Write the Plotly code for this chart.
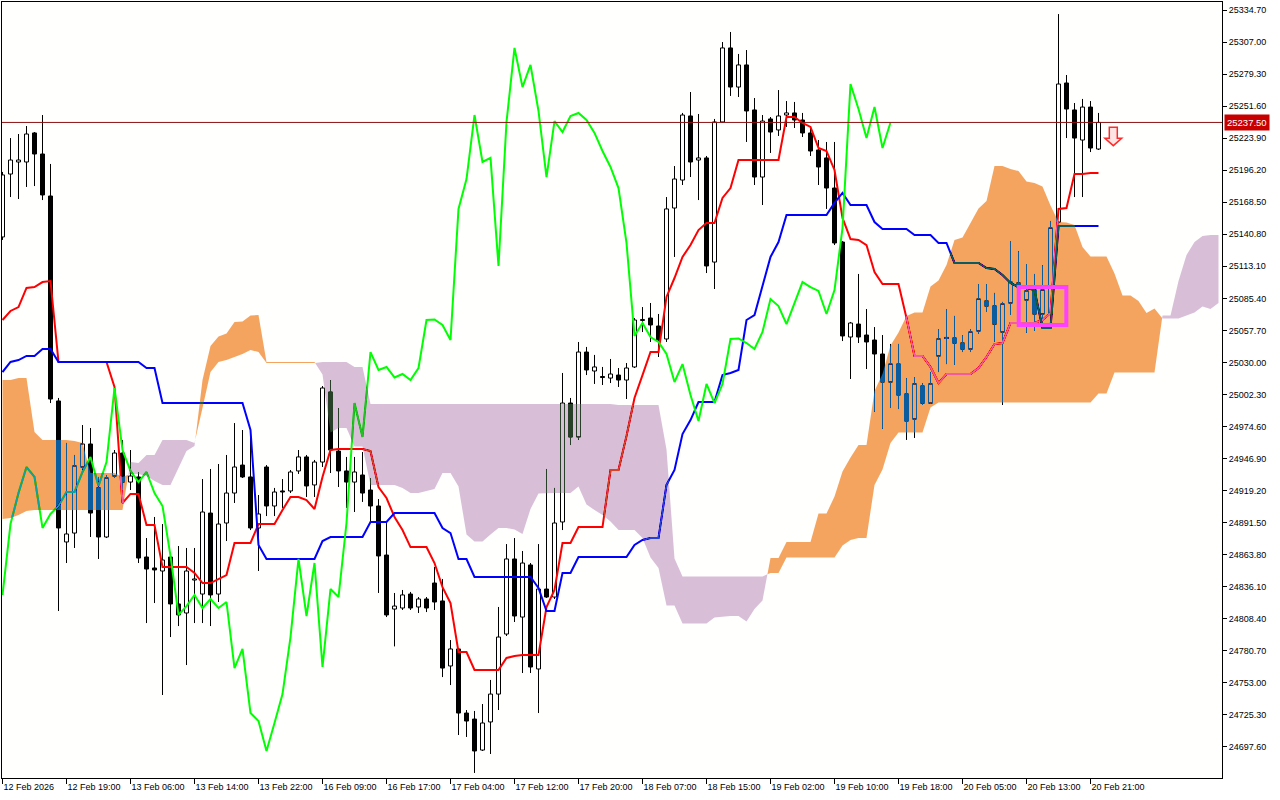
import plotly.graph_objects as go

# ---------------- data (H1 bars, price values) ----------------
OPEN = [25138.5, 25192.9, 25203.3, 25203.3, 25228.4, 25210.2, 25173.9, 24996.7, 24874.8, 24882.5,
        24939.6, 24959.5, 24921.5, 24879.1, 24931.8, 24951.7, 24926.6, 24931.0, 24861.8, 24852.3,
        24849.7, 24861.8, 24821.2, 24813.4, 24841.9, 24829.8, 24899.8, 24829.8, 24891.2, 24917.1,
        24941.3, 24931.0, 24886.9, 24939.6, 24905.9, 24918.9, 24918.9, 24936.2, 24948.3, 24924.1,
        24943.9, 25004.4, 24953.4, 24936.2, 24926.6, 24932.7, 24919.7, 24905.9, 24863.5, 24816.8,
        24817.7, 24829.8, 24818.6, 24825.5, 24839.3, 24823.8, 24767.6, 24782.3, 24726.9, 24721.7,
        24694.9, 24719.2, 24743.3, 24795.2, 24860.1, 24809.9, 24854.9, 24765.0, 24834.1, 24827.2,
        24892.1, 24994.9, 24965.6, 25039.0, 25022.6, 25017.8, 25016.5, 25019.1, 25014.8, 25026.1,
        25066.3, 25068.4, 25061.5, 25050.3, 25163.5, 25187.7, 25243.1, 25205.0, 25206.8, 25116.8,
        25237.9, 25301.9, 25268.1, 25287.2, 25248.3, 25190.3, 25240.5, 25231.0, 25243.9, 25245.7,
        25239.6, 25228.4, 25213.7, 25206.8, 25180.8, 25134.1, 25052.0, 25063.2, 25053.7, 25049.4,
        25037.3, 25013.1, 25028.6, 25002.7, 24981.1, 25009.6, 24994.9, 25035.6, 25051.6, 25051.1,
        25046.8, 25041.6, 25057.2, 25083.1, 25078.8, 25056.3, 25081.4, 25098.7, 25084.0, 25092.6,
        25071.9, 25071.9, 25151.4, 25271.6, 25248.3, 25222.3, 25250.8, 25214.5]
HIGH = [25194.7, 25224.0, 25227.5, 25234.4, 25229.2, 25243.9, 25201.6, 24999.3, 24960.4, 24950.0,
        24975.9, 24973.3, 24931.0, 24932.7, 24954.3, 24963.0, 24954.3, 24935.3, 24878.2, 24896.4,
        24890.3, 24862.7, 24871.3, 24869.6, 24869.6, 24929.2, 24937.9, 24942.2, 24950.0, 24977.6,
        24971.6, 24971.6, 24915.4, 24941.3, 24921.5, 24929.2, 24937.0, 24954.3, 24950.0, 24945.7,
        25009.6, 25014.8, 24990.6, 24948.3, 24948.3, 24952.6, 24930.1, 24911.9, 24892.1, 24830.7,
        24833.3, 24831.6, 24827.2, 24827.2, 24853.2, 24842.8, 24790.0, 24783.1, 24729.5, 24728.7,
        24734.7, 24755.5, 24818.6, 24873.0, 24878.2, 24867.0, 24856.6, 24873.0, 24937.9, 24921.5,
        25020.9, 24999.3, 25047.7, 25043.4, 25036.5, 25026.1, 25033.0, 25025.2, 25029.5, 25068.4,
        25077.9, 25081.4, 25071.9, 25173.0, 25199.8, 25245.7, 25263.8, 25244.8, 25208.5, 25240.5,
        25307.0, 25315.7, 25296.7, 25300.1, 25258.6, 25243.9, 25242.2, 25265.5, 25256.0, 25255.2,
        25245.7, 25233.6, 25222.3, 25220.6, 25220.6, 25135.0, 25065.0, 25106.5, 25076.2, 25060.6,
        25053.7, 25046.0, 25046.0, 25016.5, 25017.4, 25012.2, 25021.7, 25058.9, 25076.2, 25070.2,
        25053.7, 25058.9, 25097.8, 25097.8, 25090.1, 25082.3, 25135.0, 25126.3, 25115.1, 25106.5,
        25114.2, 25152.3, 25331.2, 25278.5, 25254.3, 25257.8, 25256.0, 25245.7]
LOW = [25135.9, 25173.0, 25171.3, 25181.7, 25182.5, 25170.4, 24994.9, 24815.1, 24856.6, 24869.6,
       24937.0, 24879.1, 24860.1, 24878.2, 24930.1, 24919.7, 24919.7, 24856.6, 24804.7, 24822.0,
       24742.5, 24792.6, 24802.1, 24768.4, 24804.7, 24804.7, 24802.1, 24822.9, 24875.6, 24908.5,
       24930.1, 24885.1, 24849.7, 24897.2, 24897.2, 24904.2, 24917.1, 24933.6, 24913.7, 24913.7,
       24939.6, 24934.4, 24922.3, 24904.2, 24900.7, 24909.4, 24891.2, 24830.7, 24809.9, 24784.5,
       24816.0, 24816.0, 24813.4, 24814.2, 24816.0, 24758.0, 24751.1, 24707.9, 24706.2, 24675.1,
       24694.1, 24691.5, 24729.5, 24793.5, 24805.6, 24761.5, 24761.5, 24726.9, 24826.4, 24825.5,
       24885.1, 24958.6, 24963.0, 25019.1, 25011.4, 25010.5, 25012.2, 25008.8, 24998.4, 25025.2,
       25056.3, 25047.7, 25034.7, 25047.7, 25121.2, 25183.4, 25190.3, 25170.4, 25107.3, 25093.5,
       25237.0, 25260.4, 25259.5, 25220.6, 25183.4, 25166.1, 25211.1, 25225.8, 25233.6, 25232.7,
       25224.9, 25208.5, 25183.4, 25162.7, 25131.5, 25048.5, 25015.7, 25046.8, 25024.3, 24987.2,
       24972.5, 24990.6, 24989.7, 24963.0, 24964.7, 24993.2, 24994.1, 25021.7, 25028.6, 25027.8,
       25039.0, 25039.0, 25054.6, 25073.6, 25047.7, 24993.2, 25071.0, 25079.7, 25055.5, 25057.2,
       25059.8, 25070.2, 25150.6, 25224.0, 25173.0, 25173.0, 25211.9, 25213.7]
CLOSE = [25192.1, 25205.0, 25205.0, 25227.5, 25210.2, 25174.8, 24998.4, 24886.9, 24881.7, 24940.5,
         24959.5, 24899.8, 24879.1, 24930.1, 24951.7, 24926.6, 24931.8, 24860.9, 24851.4, 24850.6,
         24859.2, 24821.2, 24811.7, 24849.7, 24842.8, 24900.7, 24829.0, 24890.3, 24917.1, 24939.6,
         24931.0, 24886.9, 24899.0, 24905.9, 24918.0, 24918.0, 24935.3, 24948.3, 24923.2, 24943.9,
         25007.9, 24954.3, 24936.2, 24926.6, 24935.3, 24917.1, 24905.9, 24862.7, 24811.7, 24819.4,
         24829.0, 24817.7, 24825.5, 24817.7, 24822.9, 24765.8, 24782.3, 24726.9, 24720.0, 24694.1,
         24718.3, 24743.3, 24792.6, 24860.1, 24810.8, 24856.6, 24766.7, 24834.1, 24827.2, 24891.2,
         24994.9, 24965.6, 25039.0, 25023.5, 25026.1, 25017.0, 25020.0, 25014.8, 25025.2, 25066.7,
         25067.1, 25062.4, 25049.4, 25162.7, 25188.6, 25243.9, 25203.3, 25206.8, 25113.4, 25237.9,
         25301.9, 25268.1, 25287.2, 25247.4, 25190.3, 25238.7, 25229.2, 25243.1, 25245.7, 25239.6,
         25228.4, 25212.8, 25199.0, 25180.8, 25133.3, 25052.9, 25064.1, 25052.0, 25047.7, 25037.3,
         25013.1, 25028.6, 25001.9, 24979.4, 25011.4, 24994.9, 25011.4, 25050.3, 25050.7, 25046.8,
         25041.6, 25056.3, 25084.8, 25078.8, 25063.2, 25080.5, 25099.5, 25095.2, 25091.8, 25071.9,
         25092.6, 25146.2, 25270.7, 25249.1, 25224.0, 25250.8, 25215.4, 25237.5]

TENKAN = [25066.7, 25074.5, 25077.9, 25094.4, 25095.2, 25099.5, 25100.4, 25030.4, 25030.4, 25030.4,
          25030.4, 25030.4, 25030.4, 25030.4, 25008.8, 24908.5, 24916.3, 24916.3, 24889.5, 24889.5,
          24853.2, 24853.2, 24853.2, 24853.2, 24848.0, 24839.3, 24839.3, 24842.8, 24846.2, 24873.9,
          24873.9, 24873.9, 24890.3, 24890.3, 24890.3, 24902.4, 24913.7, 24913.7, 24911.1, 24903.3,
          24931.0, 24954.3, 24955.2, 24955.2, 24955.2, 24955.2, 24953.4, 24922.3, 24912.8, 24896.4,
          24885.1, 24870.4, 24870.4, 24870.4, 24856.6, 24835.8, 24822.0, 24779.7, 24779.7, 24764.1,
          24764.1, 24764.1, 24764.1, 24774.5, 24776.2, 24777.1, 24777.1, 24777.1, 24818.6, 24833.3,
          24873.9, 24873.9, 24887.7, 24887.7, 24887.7, 24887.7, 24937.0, 24937.0, 24966.4, 24999.3,
          25019.1, 25039.0, 25039.0, 25086.6, 25103.0, 25121.2, 25131.5, 25144.5, 25150.6, 25150.6,
          25172.2, 25180.8, 25205.0, 25205.0, 25205.0, 25205.0, 25205.0, 25205.0, 25242.2, 25242.2,
          25237.0, 25233.6, 25215.4, 25212.8, 25196.4, 25154.9, 25136.7, 25135.9, 25131.5, 25108.2,
          25097.8, 25097.8, 25097.8, 25068.4, 25035.6, 25035.6, 25026.1, 25012.2, 25020.0, 25020.0,
          25020.0, 25020.0, 25025.2, 25034.7, 25045.9, 25046.8, 25064.1, 25064.1, 25064.1, 25064.1,
          25066.7, 25072.7, 25162.7, 25163.5, 25192.9, 25192.9, 25193.8, 25193.8]
KIJUN = [25021.7, 25030.4, 25032.1, 25035.6, 25035.6, 25041.6, 25041.6, 25030.4, 25030.4, 25030.4,
         25030.4, 25030.4, 25030.4, 25030.4, 25030.4, 25030.4, 25030.4, 25030.4, 25025.2, 25025.2,
         24994.9, 24994.9, 24994.9, 24994.9, 24994.9, 24994.9, 24994.9, 24994.9, 24994.9, 24994.9,
         24994.9, 24971.6, 24872.2, 24860.1, 24860.1, 24860.1, 24860.1, 24860.1, 24860.1, 24860.1,
         24875.6, 24879.1, 24879.1, 24879.1, 24879.1, 24879.1, 24892.1, 24892.1, 24892.1, 24899.8,
         24899.8, 24899.8, 24899.8, 24899.8, 24899.8, 24886.9, 24882.5, 24860.1, 24860.1, 24844.5,
         24844.5, 24844.5, 24844.5, 24844.5, 24844.5, 24844.5, 24844.5, 24835.0, 24815.1, 24815.1,
         24848.0, 24848.0, 24861.8, 24861.8, 24861.8, 24861.8, 24861.8, 24861.8, 24861.8, 24872.2,
         24876.5, 24878.2, 24878.2, 24924.1, 24937.0, 24968.1, 24980.2, 24995.8, 24995.8, 24995.8,
         25019.1, 25020.9, 25023.5, 25066.7, 25071.0, 25095.2, 25121.2, 25134.1, 25157.5, 25157.5,
         25157.5, 25157.5, 25157.5, 25157.5, 25167.9, 25176.5, 25166.1, 25166.1, 25166.1, 25151.4,
         25145.4, 25145.4, 25145.4, 25145.4, 25140.2, 25140.2, 25140.2, 25133.3, 25133.3, 25116.0,
         25116.0, 25116.0, 25116.0, 25111.6, 25110.8, 25105.6, 25098.7, 25095.2, 25094.4, 25092.6,
         25059.8, 25059.8, 25148.0, 25148.0, 25148.0, 25148.0, 25148.0, 25148.0]
# Senkou spans (already shifted 26 bars forward, so they run past the last candle)
SPAN_A = [25014.8, 25014.8, 25016.6, 25016.6, 24969.9, 24963.0, 24963.0, 24963.0, 24963.0, 24962.1,
          24960.4, 24934.4, 24934.4, 24934.4, 24934.4, 24931.0, 24933.6, 24933.6, 24931.8, 24927.5,
          24924.1, 24924.1, 24938.7, 24953.4, 24957.7, 25014.8, 25044.2, 25052.4, 25055.0, 25065.0,
          25065.4, 25070.6, 25071.0, 25030.4, 25030.4, 25030.4, 25030.4, 25030.4, 25030.4, 25030.4,
          25019.6, 24969.4, 24973.3, 24973.3, 24957.3, 24957.3, 24924.1, 24924.1, 24924.1, 24924.1,
          24921.5, 24917.1, 24917.1, 24918.9, 24920.6, 24934.4, 24934.4, 24922.7, 24881.3, 24875.2,
          24875.2, 24881.3, 24886.9, 24886.9, 24885.6, 24881.7, 24903.3, 24916.7, 24917.1, 24917.1,
          24917.1, 24917.1, 24922.7, 24907.2, 24902.4, 24898.1, 24892.5, 24885.1, 24885.1, 24885.1,
          24878.2, 24861.4, 24852.3, 24819.9, 24819.9, 24804.3, 24804.3, 24804.3, 24804.3, 24809.5,
          24810.4, 24810.8, 24810.8, 24806.1, 24816.8, 24824.2, 24860.9, 24860.9, 24874.8, 24874.8,
          24874.8, 24874.8, 24899.4, 24899.4, 24914.1, 24935.7, 24947.8, 24958.6, 24958.6, 25005.3,
          25020.0, 25044.6, 25055.9, 25070.2, 25073.2, 25073.2, 25095.6, 25100.8, 25114.3, 25135.9,
          25138.0, 25150.1, 25163.1, 25169.6, 25199.8, 25199.8, 25197.3, 25195.5, 25186.4, 25185.1,
          25182.1, 25165.7, 25151.4, 25151.0, 25148.8, 25129.8, 25121.6, 25121.6, 25121.6, 25106.9,
          25087.9, 25087.9, 25083.1, 25072.7, 25076.6, 25068.0, 25068.0, 25068.0, 25070.6, 25073.2,
          25078.3, 25076.2, 25081.4]
SPAN_B = [24894.7, 24895.5, 24898.1, 24901.6, 24902.4, 24902.4, 24902.4, 24902.4, 24902.4, 24902.4,
          24902.4, 24902.4, 24902.4, 24902.4, 24902.4, 24902.4, 24944.0, 24943.1, 24950.0, 24950.0,
          24963.0, 24963.0, 24963.0, 24963.0, 24960.4, 24990.6, 25021.7, 25030.4, 25032.1, 25034.7,
          25037.3, 25040.8, 25039.0, 25029.5, 25029.5, 25029.5, 25029.5, 25029.5, 25029.5, 25029.5,
          25030.4, 25030.4, 25030.4, 25030.4, 25026.1, 25026.1, 24994.1, 24994.1, 24994.1, 24994.1,
          24994.1, 24994.1, 24994.1, 24994.1, 24994.1, 24994.1, 24994.1, 24994.1, 24994.1, 24994.1,
          24994.1, 24994.1, 24994.1, 24994.1, 24994.1, 24994.1, 24994.1, 24994.1, 24994.1, 24994.1,
          24994.1, 24994.1, 24994.1, 24994.1, 24994.1, 24994.1, 24994.1, 24993.2, 24993.2, 24993.2,
          24993.2, 24993.2, 24993.2, 24954.7, 24860.5, 24844.9, 24844.9, 24844.9, 24844.9, 24844.9,
          24844.9, 24844.9, 24844.9, 24844.9, 24844.9, 24844.9, 24848.0, 24848.0, 24861.4, 24861.4,
          24861.4, 24861.4, 24861.4, 24861.4, 24861.4, 24871.8, 24876.5, 24878.2, 24878.2, 24924.1,
          24937.4, 24960.4, 24969.4, 24969.4, 24969.4, 24969.4, 24991.0, 24995.4, 24995.4, 24995.4,
          24995.4, 24995.4, 24995.4, 24995.4, 24995.4, 24995.4, 24995.4, 24995.4, 24995.4, 24995.4,
          24995.4, 24995.4, 24995.4, 24995.4, 24995.4, 24995.4, 24995.4, 25003.2, 25003.2, 25021.3,
          25021.3, 25021.3, 25021.3, 25021.3, 25021.3, 25070.6, 25070.6, 25100.4, 25122.9, 25134.1,
          25139.3, 25140.2, 25140.2]
CHIKOU_SHIFT = 26

TIME_LABELS = ["12 Feb 2026", "12 Feb 19:00", "13 Feb 06:00", "13 Feb 14:00", "13 Feb 22:00",
               "16 Feb 09:00", "16 Feb 17:00", "17 Feb 04:00", "17 Feb 12:00", "17 Feb 20:00",
               "18 Feb 07:00", "18 Feb 15:00", "19 Feb 02:00", "19 Feb 10:00", "19 Feb 18:00",
               "20 Feb 05:00", "20 Feb 13:00", "20 Feb 21:00"]
TIME_LABEL_BARS = [0, 8, 16, 24, 32, 40, 48, 56, 64, 72, 80, 88, 96, 104, 112, 120, 128, 136]
PRICE_LABELS = ["25334.70", "25307.00", "25279.30", "25251.60", "25223.90", "25196.20", "25168.50",
                "25140.80", "25113.10", "25085.40", "25057.70", "25030.00", "25002.30", "24974.60",
                "24946.90", "24919.20", "24891.50", "24863.80", "24836.10", "24808.40", "24780.70",
                "24753.00", "24725.30", "24697.60"]
CURRENT_PRICE = 25237.50

# chart objects (MT4 drawing objects)
SELL_ARROW = dict(bar=138.85, half=1.05, shaft=1.0, top=25233.3, neck=25223.8, tip=25217.4)
BOX = dict(bar0=127.03, bar1=132.98, p_top=25095.2, p_bot=25062.4)

# ---------------- styling ----------------
ORANGE = "#F4A460"
THISTLE = "#D8BFD8"
X_RANGE = [-0.0625, 152.4375]
Y_RANGE = [24670.74, 25341.62]
FONT = "Liberation Sans"

n = len(OPEN)
bars = list(range(n))
fig = go.Figure()

# white backdrop (keeps colour blending of the cloud identical to MT4's XOR drawing)
fig.add_trace(go.Scatter(x=[X_RANGE[0] - 5, X_RANGE[1] + 5, X_RANGE[1] + 5, X_RANGE[0] - 5],
                         y=[Y_RANGE[0] - 50, Y_RANGE[0] - 50, Y_RANGE[1] + 50, Y_RANGE[1] + 50],
                         fill="toself", fillcolor="#FFFFFE", line=dict(width=0), mode="lines",
                         hoverinfo="skip"))

# wicks
wx, wy = [], []
for i in bars:
    wx += [i, i, None]
    wy += [LOW[i], HIGH[i], None]
fig.add_trace(go.Scatter(x=wx, y=wy, mode="lines", line=dict(color="black", width=1), hoverinfo="skip"))

# bodies
HW = 0.25
def bodies(idx, fill):
    bx, by = [], []
    for i in idx:
        lo, hi = min(OPEN[i], CLOSE[i]), max(OPEN[i], CLOSE[i])
        if hi - lo < 0.9:
            mid = (hi + lo) / 2
            lo, hi = mid - 0.45, mid + 0.45
        bx += [i - HW, i + HW, i + HW, i - HW, i - HW, None]
        by += [lo, lo, hi, hi, lo, None]
    return go.Scatter(x=bx, y=by, mode="lines", fill="toself", fillcolor=fill,
                      line=dict(color="black", width=1), hoverinfo="skip")

fig.add_trace(bodies([i for i in bars if CLOSE[i] >= OPEN[i]], "white"))
fig.add_trace(bodies([i for i in bars if CLOSE[i] < OPEN[i]], "black"))

# lines
fig.add_trace(go.Scatter(x=bars, y=TENKAN, mode="lines", line=dict(color="#FF0000", width=2), hoverinfo="skip"))
fig.add_trace(go.Scatter(x=bars, y=KIJUN, mode="lines", line=dict(color="#0000FF", width=2), hoverinfo="skip"))
fig.add_trace(go.Scatter(x=bars[:n - CHIKOU_SHIFT], y=CLOSE[CHIKOU_SHIFT:], mode="lines",
                         line=dict(color="#00FF00", width=2), hoverinfo="skip"))

# cloud polygons, split where the spans cross
cx = list(range(len(SPAN_A)))
polys = []
def sgn(v):
    return 1 if v > 0 else (-1 if v < 0 else 0)
cur = sgn(SPAN_A[0] - SPAN_B[0])
up = [(cx[0], SPAN_A[0])]
lo = [(cx[0], SPAN_B[0])]
for i in range(1, len(cx)):
    d0 = SPAN_A[i - 1] - SPAN_B[i - 1]
    d1 = SPAN_A[i] - SPAN_B[i]
    s = sgn(d1)
    if s != 0 and cur != 0 and s != cur:
        t = d0 / (d0 - d1)
        xc = cx[i - 1] + t * (cx[i] - cx[i - 1])
        yc = SPAN_A[i - 1] + t * (SPAN_A[i] - SPAN_A[i - 1])
        up.append((xc, yc)); lo.append((xc, yc))
        polys.append((cur, up, lo))
        up, lo = [(xc, yc)], [(xc, yc)]
        cur = s
    elif cur == 0:
        cur = s
    up.append((cx[i], SPAN_A[i])); lo.append((cx[i], SPAN_B[i]))
polys.append((cur, up, lo))

for s, u, l in polys:
    px = [p[0] for p in u] + [p[0] for p in reversed(l)]
    py = [p[1] for p in u] + [p[1] for p in reversed(l)]
    fig.add_trace(go.Scatter(x=px, y=py, mode="lines", fill="toself",
                             fillcolor=ORANGE if s > 0 else THISTLE,
                             line=dict(width=0), hoverinfo="skip"))

# bid line, label, objects
fig.add_shape(type="line", xref="paper", x0=0, x1=1, yref="y", y0=CURRENT_PRICE, y1=CURRENT_PRICE,
              line=dict(color="#8C1010", width=1))
fig.add_annotation(x=1, xref="paper", xanchor="left", xshift=2, y=CURRENT_PRICE, yref="y",
                   text=f"{CURRENT_PRICE:.2f}", showarrow=False, bgcolor="#C80000",
                   font=dict(family=FONT, size=9.5, color="white"), borderpad=2)
a = SELL_ARROW
hs = a["shaft"] / 2
path = (f"M {a['bar']-hs},{a['top']} L {a['bar']+hs},{a['top']} "
        f"L {a['bar']+hs},{a['neck']} L {a['bar']+a['half']},{a['neck']} "
        f"L {a['bar']},{a['tip']} L {a['bar']-a['half']},{a['neck']} "
        f"L {a['bar']-hs},{a['neck']} Z")
fig.add_shape(type="path", path=path, xref="x", yref="y", fillcolor="#FFE4E4",
              line=dict(color="#FF2A2A", width=1.5))
fig.add_shape(type="rect", xref="x", yref="y", x0=BOX["bar0"], x1=BOX["bar1"],
              y0=BOX["p_bot"], y1=BOX["p_top"], line=dict(color="#FF40FF", width=4))

fig.update_layout(width=1280, height=800, margin=dict(l=2, r=58, t=2, b=22),
                  paper_bgcolor="white", plot_bgcolor="white", showlegend=False,
                  font=dict(family=FONT, size=9, color="black"), hovermode=False)
fig.update_xaxes(range=X_RANGE, tickmode="array", tickvals=TIME_LABEL_BARS, ticktext=TIME_LABELS,
                 ticks="outside", ticklen=5, tickcolor="black", tickwidth=1,
                 ticklabelposition="outside right", showgrid=False, zeroline=False,
                 showline=True, linecolor="black", linewidth=1, mirror=True,
                 tickfont=dict(family=FONT, size=9, color="black"), fixedrange=True)
fig.update_yaxes(range=Y_RANGE, side="right", tickmode="array",
                 tickvals=[float(v) for v in PRICE_LABELS], ticktext=PRICE_LABELS,
                 ticks="outside", ticklen=4, tickcolor="black", tickwidth=1,
                 showgrid=False, zeroline=False, showline=True, linecolor="black", linewidth=1,
                 mirror=True, tickfont=dict(family=FONT, size=9, color="black"), fixedrange=True)

POST = """
document.body.style.margin = '0';
document.body.style.padding = '0';
var gd = document.getElementById('{plot_id}');
function blendCloud(){
  gd.querySelectorAll('path.js-fill').forEach(function(p){
    var f = (p.style.fill || '').replace(/\\s/g, '');
    if (f === 'rgb(244,164,96)') { p.style.fill = 'rgb(11,91,159)'; p.style.mixBlendMode = 'difference'; }
    else if (f === 'rgb(216,191,216)') { p.style.fill = 'rgb(39,64,39)'; p.style.mixBlendMode = 'difference'; }
  });
}
blendCloud();
if (gd.on) { gd.on('plotly_afterplot', blendCloud); }
"""
fig.write_html("out.html", post_script=POST, config={"displayModeBar": False, "staticPlot": True})
